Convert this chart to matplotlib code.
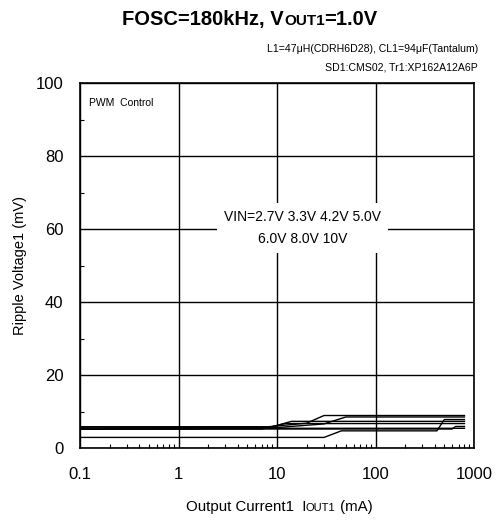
import matplotlib
matplotlib.use("Agg")
import matplotlib.pyplot as plt
import numpy as np
from matplotlib.ticker import LogLocator, NullFormatter, FixedLocator

plt.rcParams['font.family'] = ['Liberation Sans', 'DejaVu Sans']

# Ripple voltage curves (mA, mV)
curve1_x = [0.1, 8, 20, 30, 800]
curve1_y = [5.8, 5.8, 6.8, 8.9, 8.9]
curve2_x = [0.1, 10, 30, 50, 800]
curve2_y = [5.5, 5.6, 6.6, 8.5, 8.5]
curve3_x = [0.1, 7, 12, 800]
curve3_y = [5.2, 5.2, 6.7, 6.7]
curve4_x = [0.1, 9, 14, 800]
curve4_y = [5.8, 5.8, 7.3, 7.3]
curve5_x = [0.1, 600, 650, 800]
curve5_y = [5.2, 5.2, 5.9, 5.9]
curve6_x = [0.1, 1, 2, 800]
curve6_y = [5.2, 5.2, 5.4, 5.4]
curve7_x = [0.1, 30, 45, 420, 500, 800]
curve7_y = [2.9, 2.9, 4.7, 4.7, 7.8, 7.8]

curves = [(curve1_x, curve1_y), (curve2_x, curve2_y), (curve3_x, curve3_y),
          (curve4_x, curve4_y), (curve5_x, curve5_y), (curve6_x, curve6_y),
          (curve7_x, curve7_y)]

x_ticks = [0.1, 1, 10, 100, 1000]
x_ticklabels = ["0.1", "1", "10", "100", "1000"]
y_ticks = [0, 20, 40, 60, 80, 100]


def rich_text(fig, x, y, parts, ha="center", weight="normal"):
    """Draw text pieces of different sizes on one baseline (figure coords)."""
    renderer = fig.canvas.get_renderer()
    items = []
    total = 0.0
    for s, size in parts:
        t = fig.text(0, y, s, fontsize=size, weight=weight, va="baseline", ha="left")
        w = t.get_window_extent(renderer).width / fig.bbox.width
        items.append((t, w))
        total += w
    start = x - total / 2 if ha == "center" else (x - total if ha == "right" else x)
    for t, w in items:
        t.set_x(start)
        start += w


fig = plt.figure(figsize=(4.96, 5.21), dpi=100)
ax = fig.add_axes([80 / 496, 1 - 448 / 521, 394 / 496, 365 / 521])

for cx, cy in curves:
    ax.plot(cx, cy, color="black", linewidth=1.0)

ax.set_xscale("log")
ax.set_xlim(0.1, 1000)
ax.set_ylim(0, 100)
ax.xaxis.set_major_locator(FixedLocator(x_ticks))
ax.set_xticklabels(x_ticklabels)
ax.xaxis.set_minor_locator(LogLocator(base=10, subs=np.arange(2, 10)))
ax.xaxis.set_minor_formatter(NullFormatter())
ax.set_yticks(y_ticks)
ax.set_yticks([10, 30, 50, 70, 90], minor=True)
ax.grid(True, which="major", color="black", linewidth=1.0)
ax.tick_params(which="major", length=0, labelsize=12, pad=12)
ax.tick_params(axis="x", which="major", pad=14)
ax.tick_params(which="minor", direction="in", length=3, width=0.8, colors="black")
for sp in ax.spines.values():
    sp.set_linewidth(1.2)

ax.text(0.022, 0.96, "PWM  Control", transform=ax.transAxes, fontsize=7.5, va="top", ha="left")
ax.text(0.565, 0.603, "VIN=2.7V 3.3V 4.2V 5.0V\n6.0V 8.0V 10V", transform=ax.transAxes,
        fontsize=10, ha="center", va="center", linespacing=1.75,
        bbox=dict(facecolor="white", edgecolor="none", pad=5))

ax.set_ylabel("Ripple Voltage1 (mV)", fontsize=10.5, labelpad=6)

rich_text(fig, 250 / 496, 1 - 25 / 521,
          [("FOSC=180kHz, V", 14.5), ("OUT1", 11), ("=1.0V", 14.5)], weight="bold")
fig.text(478 / 496, 1 - 52 / 521, "L1=47\u03bcH(CDRH6D28), CL1=94\u03bcF(Tantalum)",
         fontsize=7.6, ha="right", va="baseline")
fig.text(478 / 496, 1 - 71 / 521, "SD1:CMS02, Tr1:XP162A12A6P",
         fontsize=7.6, ha="right", va="baseline")
rich_text(fig, 279 / 496, 1 - 511 / 521,
          [("Output Current1  I", 10.8), ("OUT1", 8), (" (mA)", 10.8)])

fig.savefig("out.png", dpi=100)
